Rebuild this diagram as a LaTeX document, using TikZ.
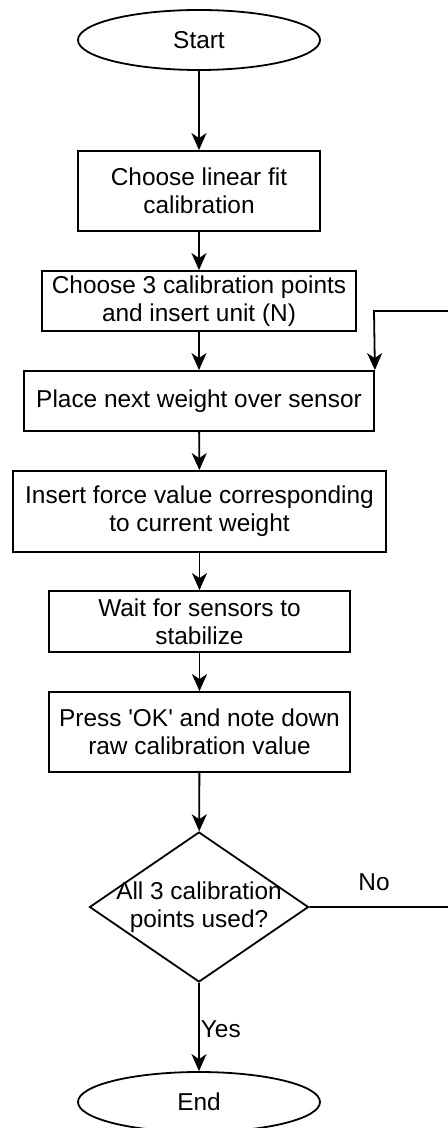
\documentclass[tikz,border=0pt]{standalone}
\usepackage{fontspec}
\setmainfont{Liberation Sans}
\usetikzlibrary{shapes.geometric,arrows.meta}
\tikzset{
    startstop/.style={draw,ellipse,inner sep=0pt,minimum width=121pt,minimum height=30pt},
    process/.style={draw,rectangle,align=center,inner sep=0pt},
    decision/.style={draw,diamond,inner sep=0pt,minimum width=109.5pt,minimum height=75pt},
    every node/.append style={font=\fontsize{12.2}{14}\selectfont},
}
\begin{document}
\begin{tikzpicture}[x=0.5pt,y=-0.5pt,>={Stealth[length=8.5pt,width=7.5pt,inset=2.5pt]},line width=0.9pt]
    \useasboundingbox (0,0) rectangle (448,1128);
    \clip (0,0) rectangle (448,1128);
\node[startstop] (start) at (199,40) {Start};
\node[process,minimum width=121pt,minimum height=40pt] (linfit) at (199,191) {Choose linear fit\\calibration};
\node[process,minimum width=157pt,minimum height=30pt] (points) at (199,301) {Choose 3 calibration points\\and insert unit (N)};
\node[process,minimum width=175pt,minimum height=30pt] (place) at (199,401) {Place next weight over sensor};
\node[process,minimum width=186.5pt,minimum height=40.5pt] (force) at (199.5,511.5) {Insert force value corresponding\\to current weight};
\node[process,minimum width=150.5pt,minimum height=30.5pt] (wait) at (199.5,621.5) {Wait for sensors to\\stabilize};
\node[process,minimum width=150.5pt,minimum height=40pt] (press) at (199.5,732) {Press \textquotesingle OK\textquotesingle{} and note down\\raw calibration value};
\node[decision] (check) at (199,907) {};
\node[align=center,inner sep=0pt] (checktext) at (199,907) {All 3 calibration\\points used?};
\node[startstop] (end) at (199,1102) {End};
\coordinate (loopR) at (470,907);
\coordinate (loopT) at (374,311);
\draw[->] (start) -- (linfit);
\draw[->] (linfit) -- (points);
\draw[->] (points) -- (place);
\draw[->] (place) -- (force);
\draw[->] (force) -- (wait);
\draw[->] (wait) -- (press);
\draw[->] (press) -- (check);
\draw[->] (check) -- node[right,inner sep=0.5pt,pos=0.53]{Yes} (end);
\draw[->] (check.east) -- (loopR) |- (loopT) -- (place.north east);
\node (no) at (374,882) {No};
\end{tikzpicture}
\end{document}
